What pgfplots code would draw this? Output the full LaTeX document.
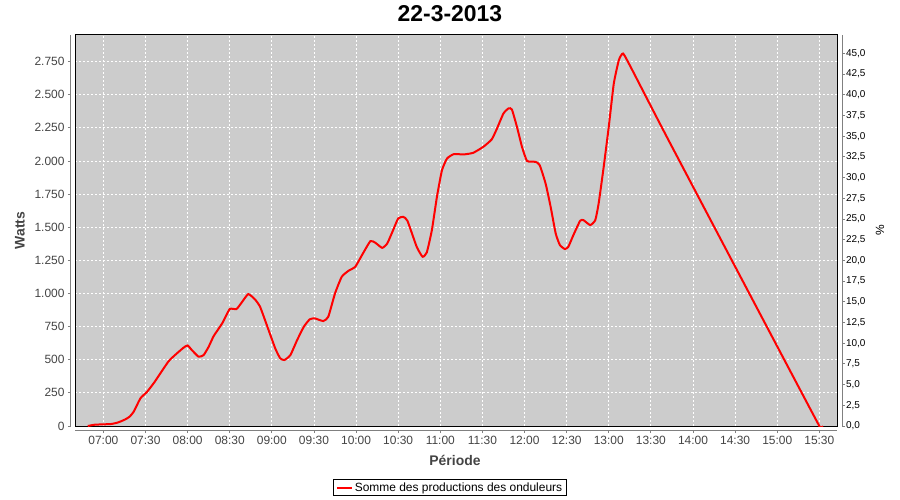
\documentclass[border=0pt]{standalone}
\usepackage{fontspec}
\setmainfont{Liberation Sans}
\usepackage{pgfplots}
\pgfplotsset{compat=1.18}
\definecolor{plotbg}{RGB}{204,204,204}
\definecolor{axgray}{RGB}{128,128,128}
\definecolor{lblgray}{RGB}{68,68,68}
\begin{document}
\begin{tikzpicture}
\path[use as bounding box] (-75bp,-74bp) rectangle (825bp,426bp);
\begin{axis}[
  name=main,
  at={(0,0)}, anchor=south west, scale only axis,
  width=762bp, height=391bp,
  xmin=6.663, xmax=15.71, ymin=0, ymax=2950,
  axis background/.style={fill=plotbg},
  axis line style={black, line width=1bp},
  xtick={7,7.5,8,8.5,9,9.5,10,10.5,11,11.5,12,12.5,13,13.5,14,14.5,15,15.5},
  xticklabels={07:00,07:30,08:00,08:30,09:00,09:30,10:00,10:30,11:00,11:30,12:00,12:30,13:00,13:30,14:00,14:30,15:00,15:30},
  ytick={0,250,...,2750},
  grid=major,
  grid style={white, dash pattern=on 2bp off 2bp, line width=0.8bp},
  tick align=outside, major tick length=3bp,
  xtick pos=left, ytick pos=left,
  xtick style={draw=axgray, line width=0.8bp, yshift=-4bp},
  ytick style={draw=axgray, line width=0.8bp, xshift=-4bp},
  tick label style={font=\fontsize{12}{14}\selectfont, text=lblgray},
  yticklabel style={xshift=-4bp},
  xticklabel style={yshift=-4bp},
  /pgf/number format/assume math mode=true,
  /pgf/number format/1000 sep={.},
  scaled y ticks=false,
  title={22-3-2013},
  title style={font=\bfseries\fontsize{23}{24}\selectfont, at={(0.492,1.054)}, anchor=center, yshift=-6bp},
  xlabel={Période},
  xlabel style={font=\bfseries\fontsize{14}{17}\selectfont, text=lblgray, at={(0.4987,-0.087)}, anchor=center},
  ylabel={Watts},
  ylabel style={font=\bfseries\fontsize{14}{17}\selectfont, text=lblgray, at={(-0.0722,0.5)}, anchor=center},
  legend style={at={(0.4921,-0.1573)}, anchor=center, draw=black, line width=0.8bp,
    font=\fontsize{12}{14}\selectfont, inner xsep=2bp, inner ysep=1bp, fill=white,
    /tikz/every even column/.append style={column sep=2bp}},
  legend image code/.code={\draw[#1] (0bp,0bp) -- (15bp,0bp);},
]
\addplot[red, line width=2bp, smooth, tension=0.3] table {
x y
6.815 0
6.90 10
7.09 15
7.18 28
7.26 50
7.31 70
7.36 108
7.44 209
7.52 259
7.61 334
7.77 485
7.85 535
7.95 590
8.00 608
8.05 573
8.13 523
8.19 535
8.25 598
8.31 679
8.41 774
8.50 882
8.58 882
8.64 930
8.72 995
8.80 955
8.86 900
8.94 762
9.04 586
9.10 510
9.15 498
9.22 535
9.30 648
9.38 749
9.45 805
9.51 812
9.61 792
9.67 824
9.75 1000
9.83 1126
9.91 1171
9.99 1201
10.07 1289
10.17 1395
10.23 1382
10.31 1344
10.37 1377
10.44 1478
10.50 1566
10.56 1578
10.61 1548
10.72 1352
10.79 1277
10.84 1310
10.90 1478
10.96 1729
11.02 1930
11.08 2018
11.16 2051
11.28 2049
11.39 2061
11.51 2106
11.61 2162
11.67 2240
11.75 2358
11.81 2396
11.85 2388
11.91 2257
11.97 2106
12.03 2000
12.13 1993
12.18 1968
12.25 1830
12.31 1654
12.37 1453
12.42 1365
12.48 1335
12.52 1352
12.58 1440
12.66 1548
12.70 1553
12.78 1516
12.84 1553
12.88 1679
12.94 1955
13.00 2257
13.06 2584
13.12 2760
13.17 2810
13.26 2709
13.73 2132
15.50 0
15.53 0
};
\addlegendentry{Somme des productions des onduleurs}
\end{axis}
\begin{axis}[
  at={(0,0)}, anchor=south west, scale only axis,
  width=762bp, height=391bp,
  xmin=0, xmax=1, ymin=0, ymax=47.22,
  axis x line=none, axis y line*=right,
  axis line style={draw=none},
  ytick={0,2.5,...,45},
  tick align=outside, major tick length=3bp,
  ytick style={draw=axgray, line width=0.8bp, xshift=5bp},
  yticklabel style={font=\fontsize{10}{12}\selectfont, text=black, xshift=2.5bp},
  /pgf/number format/.cd, fixed, fixed zerofill, precision=1, use comma, assume math mode=true,
  /pgfplots/.cd,
  ylabel={\%},
  ylabel style={font=\fontsize{12}{14}\selectfont, at={(1.0564,0.5)}, anchor=center},
]
\end{axis}
\draw[axgray, line width=1bp] ([xshift=-4bp]main.south west) -- ([xshift=-4bp]main.north west);
\draw[axgray, line width=1bp] ([yshift=-4bp]main.south west) -- ([yshift=-4bp]main.south east);
\draw[axgray, line width=1bp] ([xshift=5bp]main.south east) -- ([xshift=5bp]main.north east);
\end{tikzpicture}
\end{document}
